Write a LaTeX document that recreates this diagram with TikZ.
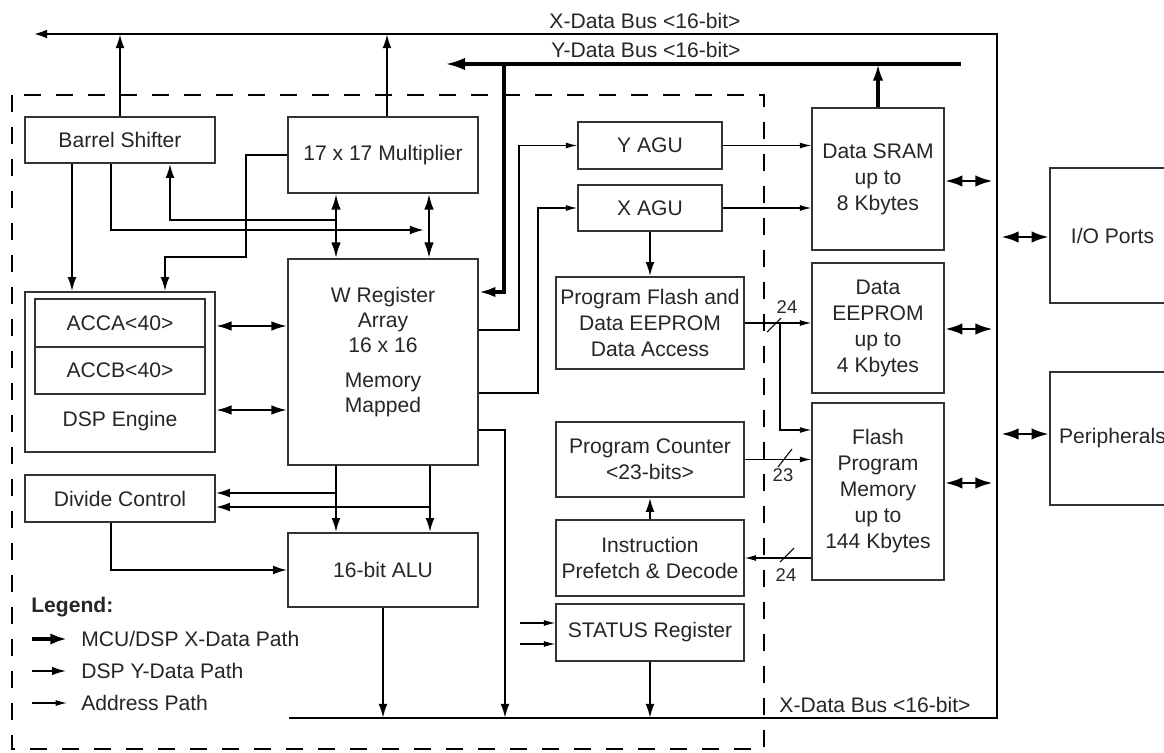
\documentclass[tikz,border=0pt]{standalone}
\usepackage{fontspec}
\setmainfont{Liberation Sans}
\usetikzlibrary{arrows.meta}

\begin{document}
\begin{tikzpicture}[x=0.02cm,y=-0.02cm,
  font=\fontsize{12}{14.8}\selectfont, text=black!85,
  blk/.style={draw=black!80, line width=0.9pt, inner sep=1pt, align=center},
  xbus/.style={line width=1.5pt, -{Latex[length=8pt,width=5pt]}},
  med/.style={line width=1.1pt, -{Latex[length=8pt,width=5pt]}},
  adr/.style={line width=0.6pt, -{Latex[length=6.5pt,width=3.4pt]}},
  fat/.style={line width=2.6pt, -{Latex[length=12pt,width=7pt]}},
  fatin/.style={line width=2.6pt, -{Latex[length=9.5pt,width=6pt]}},
  dbl/.style={line width=1.4pt, {Latex[length=9pt,width=5.5pt]}-{Latex[length=9pt,width=5.5pt]}},
  busdbl/.style={line width=1.7pt, {Latex[length=10pt,width=6.5pt]}-{Latex[length=10pt,width=6.5pt]}},
  dashbox/.style={line width=1.2pt, dash pattern=on 0.34cm off 0.3cm},
  slash/.style={line width=0.6pt},
  small/.style={font=\fontsize{10.5}{12}\selectfont}
]
\useasboundingbox (0,0) rectangle (1164,753);
\fill[white] (0,0) rectangle (1164,753);
\clip (0,0) rectangle (1164,753);

% dashed core boundary
\draw[dashbox] (12,95) rectangle (764,749);

% buses
\coordinate (xbl) at (289,718);
\coordinate (xbr) at (997,718);
\coordinate (xtr) at (997,34);
\coordinate (xtl) at (33,34);
\coordinate (ybr) at (961,64);
\coordinate (ybl) at (444,64);
\coordinate (ytap) at (504,64);
\draw[xbus] (xbl) -- (xbr) -- (xtr) -- (xtl);
\draw[fat] (ybr) -- (ybl);
\draw (645,21) node {X-Data Bus <16-bit>};
\draw (646,50) node {Y-Data Bus <16-bit>};
\draw (875,705) node {X-Data Bus <16-bit>};

% left column
\draw (120,140) node[blk,minimum width=3.8cm,minimum height=0.92cm] (barrel) {Barrel Shifter};
\draw (120,372) node[blk,minimum width=3.8cm,minimum height=3.2cm] (dsp) {};
\draw (120,323) node[blk,minimum width=3.4cm,minimum height=0.96cm] (acca) {ACCA<40>};
\draw (120,370.5) node[blk,minimum width=3.4cm,minimum height=0.94cm] (accb) {ACCB<40>};
\draw (120,421) node (dsplabel) {DSP Engine};
\draw (120,498.5) node[blk,minimum width=3.8cm,minimum height=0.94cm] (divide) {Divide Control};

% centre column
\draw (383,155) node[blk,minimum width=3.8cm,minimum height=1.52cm] (mult) {17 x 17 Multiplier};
\draw (383,362) node[blk,minimum width=3.8cm,minimum height=4.12cm] (wreg) {};
\draw (383,352) node[align=center,font=\fontsize{12}{14.2}\selectfont] (wtext) {W Register\\Array\\16 x 16\\[5.7pt]Memory\\Mapped};
\draw (383,570) node[blk,minimum width=3.8cm,minimum height=1.48cm] (alu) {16-bit ALU};

% address / program column
\draw (650,145.5) node[blk,minimum width=2.88cm,minimum height=0.94cm] (yagu) {Y AGU};
\draw (650,208) node[blk,minimum width=2.88cm,minimum height=0.92cm] (xagu) {X AGU};
\draw (650,323) node[blk,minimum width=3.76cm,minimum height=1.84cm] (pflash) {Program Flash and\\Data EEPROM\\Data Access};
\draw (650,459.5) node[blk,minimum width=3.76cm,minimum height=1.5cm] (pc) {Program Counter\\<23-bits>};
\draw (650,558) node[blk,minimum width=3.76cm,minimum height=1.52cm] (instr) {Instruction\\Prefetch \& Decode};
\draw (650,632.5) node[blk,minimum width=3.76cm,minimum height=1.14cm] (status) {STATUS Register};

% memories
\draw (878,179) node[blk,minimum width=2.64cm,minimum height=2.84cm] (sram) {Data SRAM\\up to\\8 Kbytes};
\draw (878,328) node[blk,minimum width=2.64cm,minimum height=2.6cm] (eeprom) {Data\\EEPROM\\up to\\4 Kbytes};
\draw (878,491.5) node[blk,minimum width=2.64cm,minimum height=3.54cm] (flash) {Flash\\Program\\Memory\\up to\\144 Kbytes};

% outside
\draw (1112.5,235.5) node[blk,minimum width=2.5cm,minimum height=2.7cm] (io) {I/O Ports};
\draw (1112.5,438.5) node[blk,minimum width=2.5cm,minimum height=2.66cm] (periph) {Peripherals};

% data paths
\draw[med] (barrel.north) -- (barrel.north |- xtl);
\draw[med] ([xshift=0.08cm]mult.north) -- ([xshift=0.08cm]mult.north |- xtl);
\draw[med] (barrel.south -| 72,0) -- (dsp.north -| 72,0);
\draw[med] (barrel.south -| 111,0) |- (424,230);
\draw[med] (336,220) -| (barrel.south -| 170,0);
\draw[dbl] (mult.south -| 336,0) -- (wreg.north -| 336,0);
\draw[dbl] (mult.south -| 429,0) -- (wreg.north -| 429,0);
\draw[med] (mult.west) -| (246,257) -| (dsp.north -| 165,0);
\draw[dbl] (dsp.east |- 0,326) -- (wreg.west |- 0,326);
\draw[dbl] (dsp.east |- 0,410) -- (wreg.west |- 0,410);
\draw[med] (wreg.south -| 336,0) -- (alu.north -| 336,0);
\draw[med] (wreg.south -| 430,0) -- (alu.north -| 430,0);
\draw[med] (336,493) -- (divide.east |- 0,493);
\draw[med] (430,507) -- (divide.east |- 0,507);
\draw[med] (divide.south -| 111,0) |- (alu.west);
\draw[med] (alu.south) -- (alu.south |- xbl);
\draw[med] (wreg.east |- 0,430) -| (xbl -| 505,0);
\draw[fatin] (ytap) |- (wreg.east |- 0,292);
\draw[med] (xagu.south) -- (pflash.north);
\draw[med] (instr.north) -- (pc.south);
\draw[med] (status.south) -- (status.south |- xbl);
\draw[fatin] (sram.north) -- (sram.north |- ybr);

% address paths
\draw[adr] (wreg.east |- 0,330) -- (519,330) |- (yagu.west);
\draw[adr] (wreg.east |- 0,393) -- (538,393) |- (xagu.west);
\draw[adr] (yagu.east) -- (sram.west |- yagu.east);
\draw[adr] (xagu.east) -- (sram.west |- xagu.east);
\draw[adr] (pflash.east) -- (eeprom.west |- pflash.east);
\draw[adr] (780,323) |- (flash.west |- 0,430);
\draw[adr] (pc.east) -- (flash.west |- pc.east);
\draw[adr] (flash.west |- instr.east) -- (instr.east);
\draw[adr] (520,623) -- (status.west |- 0,623);
\draw[adr] (520,644) -- (status.west |- 0,644);
\draw[slash] (767,332) -- (781,318);
\draw[slash] (778,467) -- (792,449);
\draw[slash] (780,562) -- (794,548);
\draw (787,307) node[small] {24};
\draw (783,475) node[small] {23};
\draw (786,575) node[small] {24};

% bus taps
\draw[busdbl] (sram.east |- 0,181) -- (993,181);
\draw[busdbl] (eeprom.east |- 0,329) -- (993,329);
\draw[busdbl] (flash.east |- 0,483) -- (993,483);
\draw[busdbl] (1001,237) -- (io.west |- 0,237);
\draw[busdbl] (1001,434) -- (periph.west |- 0,434);

% legend
\draw (31,607) node[anchor=west,inner sep=0pt,font=\bfseries\fontsize{12}{14}\selectfont] (legend) {Legend:};
\draw (81,639) node[anchor=west,inner sep=0pt] (lgx) {MCU/DSP X-Data Path};
\draw (81,671) node[anchor=west,inner sep=0pt] (lgy) {DSP Y-Data Path};
\draw (81,703) node[anchor=west,inner sep=0pt] (lga) {Address Path};
\draw[line width=2.3pt, -{Latex[length=9.5pt,width=6.5pt]}] (lgx.west -| 32,0) -- (lgx.west -| 67,0);
\draw[line width=1.4pt, -{Latex[length=8.5pt,width=4.8pt]}] (lgy.west -| 32,0) -- (lgy.west -| 67,0);
\draw[adr] (lga.west -| 32,0) -- (lga.west -| 67,0);

\end{tikzpicture}
\end{document}
